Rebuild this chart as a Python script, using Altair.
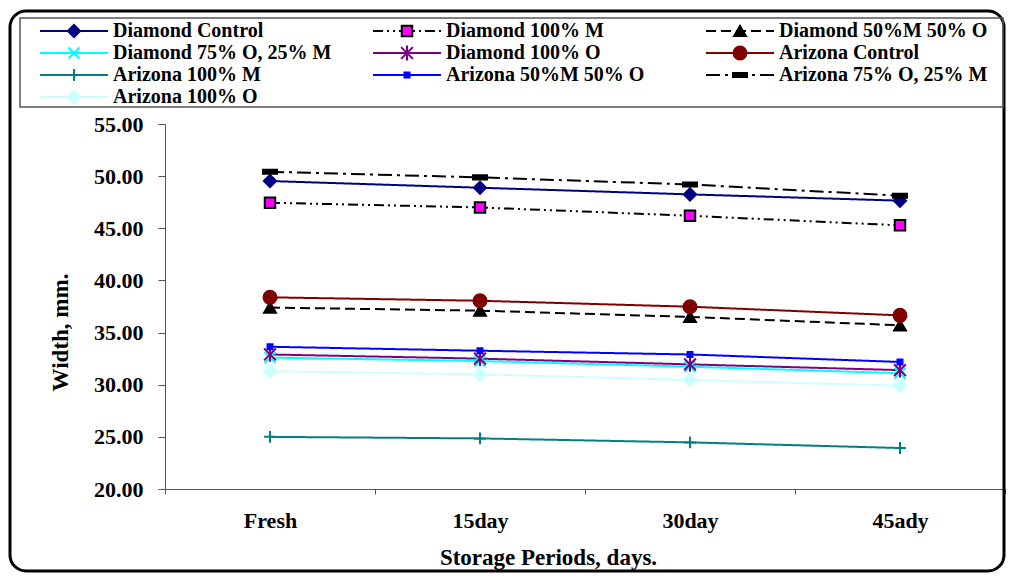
import altair as alt
import pandas as pd

periods = ["Fresh", "15day", "30day", "45ady"]

series = [
    "Diamond Control", "Diamond 100% M", "Diamond 50%M 50% O",
    "Diamond 75% O, 25% M", "Diamond 100% O", "Arizona Control",
    "Arizona 100% M", "Arizona 50%M 50% O", "Arizona 75% O, 25% M",
    "Arizona 100% O",
]

diamond_control = [49.53, 48.89, 48.25, 47.65]
diamond_100m = [47.45, 47.00, 46.20, 45.28]
diamond_50m50o = [37.40, 37.10, 36.50, 35.70]
diamond_75o25m = [32.60, 32.27, 31.73, 31.10]
diamond_100o = [32.90, 32.50, 31.95, 31.40]
arizona_control = [38.38, 38.05, 37.48, 36.65]
arizona_100m = [25.00, 24.85, 24.47, 23.93]
arizona_50m50o = [33.64, 33.26, 32.90, 32.18]
arizona_75o25m = [50.42, 49.88, 49.20, 48.12]
arizona_100o = [31.30, 31.00, 30.45, 29.90]

values = [
    diamond_control, diamond_100m, diamond_50m50o, diamond_75o25m, diamond_100o,
    arizona_control, arizona_100m, arizona_50m50o, arizona_75o25m, arizona_100o,
]

# styles
line_colors = ["#000080", "#000000", "#000000", "#00FFFF", "#800080",
               "#800000", "#008080", "#0000FF", "#000000", "#CCFFFF"]
fill_colors = ["#000080", "#FF00FF", "#000000", "#00FFFF", "#800080",
               "#800000", "#008080", "#0000FF", "#000000", "#CCFFFF"]
stroke_colors = ["#000080", "#000000", "#000000", "#00FFFF", "#800080",
                 "#800000", "#008080", "#0000FF", "#000000", "#CCFFFF"]
shapes = [
    "diamond", "square", "triangle-up",
    "M-1,-1L1,1M-1,1L1,-1",
    "M-1,-1L1,1M-1,1L1,-1M0,-1.25L0,1.25",
    "circle",
    "M-1,0L1,0M0,-1L0,1",
    "square",
    "M-1,-0.3L1,-0.3L1,0.3L-1,0.3Z",
    "diamond",
]
sizes = [150, 110, 140, 120, 140, 170, 140, 25, 196, 170]
dashes = [[1, 0], [10, 4, 2, 4, 2, 4], [10, 5], [1, 0], [1, 0],
          [1, 0], [1, 0], [1, 0], [14, 5, 3, 5], [1, 0]]

rows = []
for s, vals in zip(series, values):
    for p, v in zip(periods, vals):
        rows.append({"series": s, "period": p, "width": v})
df = pd.DataFrame(rows)

leg = pd.DataFrame({
    "series": series,
    "lcol": [i % 3 for i in range(len(series))],
    "lrow": [i // 3 for i in range(len(series))],
})

FONT = "Liberation Serif"

color_enc = alt.Color("series:N", scale=alt.Scale(domain=series, range=line_colors), legend=None)
dash_enc = alt.StrokeDash("series:N", scale=alt.Scale(domain=series, range=dashes), legend=None)
shape_enc = alt.Shape("series:N", scale=alt.Scale(domain=series, range=shapes), legend=None)
fill_enc = alt.Fill("series:N", scale=alt.Scale(domain=series, range=fill_colors), legend=None)
stroke_enc = alt.Stroke("series:N", scale=alt.Scale(domain=series, range=stroke_colors), legend=None)
size_enc = alt.Size("series:N", scale=alt.Scale(type="ordinal", domain=series, range=sizes), legend=None)

x_enc = alt.X(
    "period:N", sort=periods, bandPosition=0.5,
    scale=alt.Scale(type="band", paddingInner=0, paddingOuter=0),
    axis=alt.Axis(
        title="Storage Periods, days.", labelAngle=0, tickBand="extent",
        tickSize=5, labelPadding=33, labelBaseline="alphabetic",
        labelFont=FONT, labelFontSize=22, labelFontWeight="bold", labelColor="black",
        titleFont=FONT, titleFontSize=23, titleFontWeight="bold", titleColor="black",
        titleX=383, titleY=75, titleBaseline="alphabetic", titleAlign="center",
        domainColor="#555555", tickColor="#555555", grid=False,
    ),
)
y_enc = alt.Y(
    "width:Q",
    scale=alt.Scale(domain=[20, 55], nice=False, zero=False),
    axis=alt.Axis(
        title="Width, mm.", values=[20, 25, 30, 35, 40, 45, 50, 55], format=".2f",
        tickSize=7, labelPadding=15,
        labelFont=FONT, labelFontSize=22, labelFontWeight="bold", labelColor="black",
        titleFont=FONT, titleFontSize=23, titleFontWeight="bold", titleColor="black",
        titleX=-98, titleY=208, titleAngle=-90, titleBaseline="alphabetic", titleAlign="center",
        domainColor="#555555", tickColor="#555555", grid=False,
    ),
)

base = alt.Chart(df)
lines = base.mark_line(strokeWidth=2).encode(
    x=x_enc, y=y_enc, color=color_enc, strokeDash=dash_enc, detail="series:N"
)
points = base.mark_point(filled=True, opacity=1, strokeWidth=2).encode(
    x=x_enc, y=y_enc, shape=shape_enc, fill=fill_enc, stroke=stroke_enc, size=size_enc,
)
main = alt.layer(lines, points)

lx = alt.X("lcol:Q", scale=alt.Scale(domain=[0, 2], range=[-125, 541], nice=False, zero=False), axis=None)
ly = alt.Y("lrow:Q", scale=alt.Scale(domain=[0, 3], range=[-93, -27], nice=False, zero=False), axis=None)
lb = alt.Chart(leg)
leg_lines = lb.mark_rule(strokeWidth=2, x2Offset=68).encode(
    x=lx, x2="lcol:Q", y=ly, color=color_enc, strokeDash=dash_enc
)
leg_pts = lb.mark_point(filled=True, opacity=1, strokeWidth=2, xOffset=34).encode(
    x=lx, y=ly, shape=shape_enc, fill=fill_enc, stroke=stroke_enc, size=size_enc
)
leg_text = lb.mark_text(align="left", baseline="middle", dx=73, font=FONT,
                        fontSize=20, fontWeight="bold", color="black").encode(
    x=lx, y=ly, text="series:N"
)
legend = alt.layer(leg_lines, leg_pts, leg_text)

one = pd.DataFrame({"k": [0]})
frame = alt.Chart(one).mark_rect(fillOpacity=0, stroke="black", strokeWidth=3, cornerRadius=16).encode(
    x=alt.value(-155), x2=alt.value(839), y=alt.value(-113), y2=alt.value(447)
)
legbox = alt.Chart(one).mark_rect(fillOpacity=0, stroke="#555555", strokeWidth=1.5).encode(
    x=alt.value(-145), x2=alt.value(838), y=alt.value(-106), y2=alt.value(-17)
)

chart = alt.layer(frame, legbox, main, legend).resolve_scale(
    x="independent", y="independent"
).properties(
    width=840, height=365,
    padding={"left": 157, "top": 116, "right": 1, "bottom": 84},
    autosize=alt.AutoSizeParams(type="none"),
    background="white",
).configure_view(stroke=None)

chart.save("out.html", embed_options={"renderer": "svg", "actions": False})
